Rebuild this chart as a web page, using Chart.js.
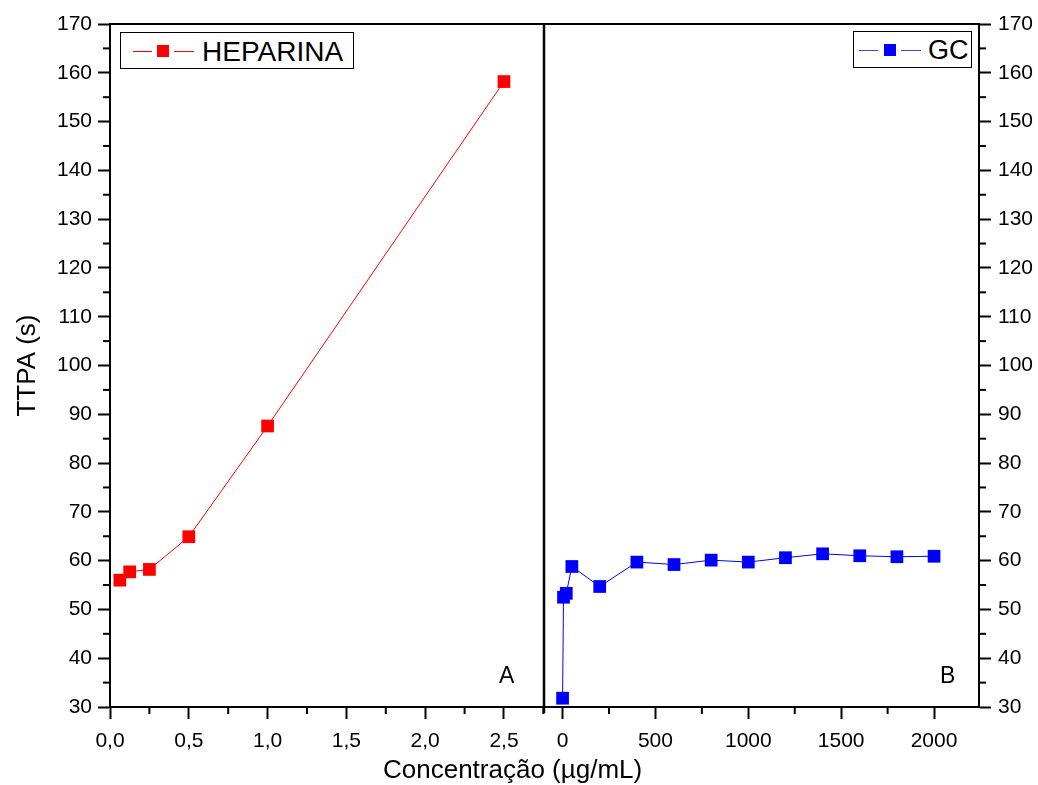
<!DOCTYPE html>
<html>
<head>
<meta charset="utf-8">
<script src="https://cdn.jsdelivr.net/npm/chart.js@4"></script>
<style>
  body { margin: 0; background: #fff; }
  #wrap { position: relative; width: 1038px; height: 785px; font-family: "Liberation Sans", Arial, sans-serif; color: #000; }
  canvas { position: absolute; top: 0; }
  .txt { position: absolute; line-height: 1; white-space: nowrap; }
  .legend { position: absolute; border: 1px solid #000; background: #fff; box-sizing: border-box; }
  .legend span { position: absolute; }
</style>
</head>
<body>
<div id="wrap">
  <canvas id="chartA" width="560" height="785" style="left:0"></canvas>
  <canvas id="chartB" width="510" height="785" style="left:528px"></canvas>

  <div class="legend" style="left:120px; top:32px; width:234px; height:37px;">
    <span style="left:12px; top:18px; width:19px; height:1px; background:#f00;"></span>
    <span style="left:36px; top:12px; width:12px; height:12px; background:#f00;"></span>
    <span style="left:53px; top:18px; width:20px; height:1px; background:#f00;"></span>
    <span class="txt" style="left:81px; top:5px; font-size:28px;">HEPARINA</span>
  </div>
  <div class="legend" style="left:853px; top:31px; width:119px; height:37px;">
    <span style="left:5px; top:18px; width:19px; height:1px; background:#44f;"></span>
    <span style="left:30px; top:12px; width:12px; height:12px; background:#00f;"></span>
    <span style="left:47px; top:18px; width:20px; height:1px; background:#44f;"></span>
    <span class="txt" style="left:74px; top:5px; font-size:27px;">GC</span>
  </div>

  <div class="txt" style="left:499px; top:664px; font-size:23px;">A</div>
  <div class="txt" style="left:940px; top:664px; font-size:23px;">B</div>
  <div class="txt" style="left:383px; top:756px; font-size:26px;">Concentração (µg/mL)</div>
</div>
<script>
// HEPARINA (left panel), concentration vs TTPA
var heparinConc = [0.0625, 0.125, 0.25, 0.5, 1.0, 2.5];
var heparinTTPA = [56.0, 57.7, 58.2, 64.9, 87.6, 158.2];

// GC (right panel), concentration in ug/mL vs TTPA
var gcConc = [0, 5, 20, 50, 200, 400, 600, 800, 1000, 1200, 1400, 1600, 1800, 2000];
var gcTTPA = [31.8, 52.5, 53.3, 58.8, 54.7, 59.7, 59.2, 60.1, 59.7, 60.6, 61.4, 61.0, 60.8, 60.9];

// axis ticks
var yMajorStep = 10;
var yMinor = [35, 45, 55, 65, 75, 85, 95, 105, 115, 125, 135, 145, 155, 165];
var xTicksA = [0, 0.5, 1.0, 1.5, 2.0, 2.5];
var xMinorA = [0.25, 0.75, 1.25, 1.75, 2.25, 2.75];
var xTicksB = [0, 500, 1000, 1500, 2000];
var xMinorB = [250, 750, 1250, 1750];

var FONT = "'Liberation Sans', Arial, sans-serif";
Chart.defaults.font.family = FONT;
Chart.defaults.color = "#000";

function toPoints(xs, ys) {
    return xs.map(function (x, i) { return { x: x, y: ys[i] }; });
}

function fixedTicks(list) {
    return function (s) {
        s.ticks = list.map(function (v) { return { value: v }; });
    };
}

// short ticks between the labelled ones + frame lines
var frame = {
    id: "frame",
    afterDraw: function (chart, args, opts) {
        var ctx = chart.ctx;
        var a = chart.chartArea;
        ctx.save();
        ctx.strokeStyle = "#000";
        ctx.lineWidth = 2;
        Object.keys(opts.minor).forEach(function (id) {
            var s = chart.scales[id];
            opts.minor[id].forEach(function (v) {
                var p = s.getPixelForValue(v);
                ctx.beginPath();
                if (s.isHorizontal()) {
                    ctx.moveTo(p, s.top);
                    ctx.lineTo(p, s.top + 7);
                } else if (s.position === "left") {
                    ctx.moveTo(s.right, p);
                    ctx.lineTo(s.right - 7, p);
                } else {
                    ctx.moveTo(s.left, p);
                    ctx.lineTo(s.left + 7, p);
                }
                ctx.stroke();
            });
        });
        // top border
        ctx.beginPath();
        ctx.moveTo(a.left - 1, a.top);
        ctx.lineTo(a.right + 1, a.top);
        ctx.stroke();
        if (opts.divider) {
            ctx.lineWidth = 2.5;
            ctx.beginPath();
            ctx.moveTo(a.right, a.top);
            ctx.lineTo(a.right, a.bottom + 6);
            ctx.stroke();
        }
        ctx.restore();
    }
};

var tickFont = { size: 21, family: FONT };
var gridOpts = { drawOnChartArea: false, drawTicks: true, tickLength: 12, tickWidth: 2, tickColor: "#000" };
var borderOpts = { display: true, color: "#000", width: 2 };

var ctxA = document.getElementById("chartA").getContext("2d");
var chartA = new Chart(ctxA, {
    type: "line",
    data: {
        datasets: [{
            label: "HEPARINA",
            data: toPoints(heparinConc, heparinTTPA),
            borderColor: "#ff0000",
            backgroundColor: "#ff0000",
            borderWidth: 1,
            pointStyle: "rect",
            pointRadius: 9,
            pointBorderWidth: 0,
            clip: false,
        }],
    },
    options: {
        responsive: false,
        animation: false,
        devicePixelRatio: 1,
        layout: { padding: { top: 24, right: 16, left: 0, bottom: 0 } },
        plugins: {
            legend: { display: false },
            tooltip: { enabled: false },
            frame: { minor: { x: xMinorA, y: yMinor }, divider: true },
        },
        scales: {
            x: {
                type: "linear",
                min: 0,
                max: 2.754,
                grid: gridOpts,
                border: borderOpts,
                afterBuildTicks: fixedTicks(xTicksA),
                ticks: {
                    font: tickFont,
                    padding: 10,
                    maxRotation: 0,
                    callback: function (v) { return v.toFixed(1).replace(".", ","); },
                },
                afterFit: function (s) { s.height = 78; },
            },
            y: {
                type: "linear",
                position: "left",
                min: 30,
                max: 170,
                grid: gridOpts,
                border: borderOpts,
                ticks: { stepSize: yMajorStep, font: tickFont, padding: 6 },
                title: {
                    display: true,
                    text: "TTPA (s)",
                    font: { size: 26, family: FONT },
                    padding: { top: 12, bottom: 0 },
                },
                afterFit: function (s) { s.width = 110; },
            },
        },
    },
    plugins: [frame],
});

var ctxB = document.getElementById("chartB").getContext("2d");
var chartB = new Chart(ctxB, {
    type: "line",
    data: {
        datasets: [{
            label: "GC",
            data: toPoints(gcConc, gcTTPA),
            borderColor: "#0000ff",
            backgroundColor: "#0000ff",
            borderWidth: 1,
            pointStyle: "rect",
            pointRadius: 9,
            pointBorderWidth: 0,
            clip: false,
        }],
    },
    options: {
        responsive: false,
        animation: false,
        devicePixelRatio: 1,
        layout: { padding: { top: 24, right: 0, left: 16, bottom: 0 } },
        plugins: {
            legend: { display: false },
            tooltip: { enabled: false },
            frame: { minor: { x: xMinorB, y: yMinor }, divider: false },
        },
        scales: {
            x: {
                type: "linear",
                min: -100,
                max: 2242,
                grid: gridOpts,
                border: borderOpts,
                afterBuildTicks: fixedTicks(xTicksB),
                ticks: {
                    font: tickFont,
                    padding: 10,
                    maxRotation: 0,
                    callback: function (v) { return String(v); },
                },
                afterFit: function (s) { s.height = 78; },
            },
            y: {
                type: "linear",
                position: "right",
                min: 30,
                max: 170,
                grid: gridOpts,
                border: borderOpts,
                ticks: { stepSize: yMajorStep, font: tickFont, padding: 7 },
                afterFit: function (s) { s.width = 59; },
            },
        },
    },
    plugins: [frame],
});
</script>
</body>
</html>
